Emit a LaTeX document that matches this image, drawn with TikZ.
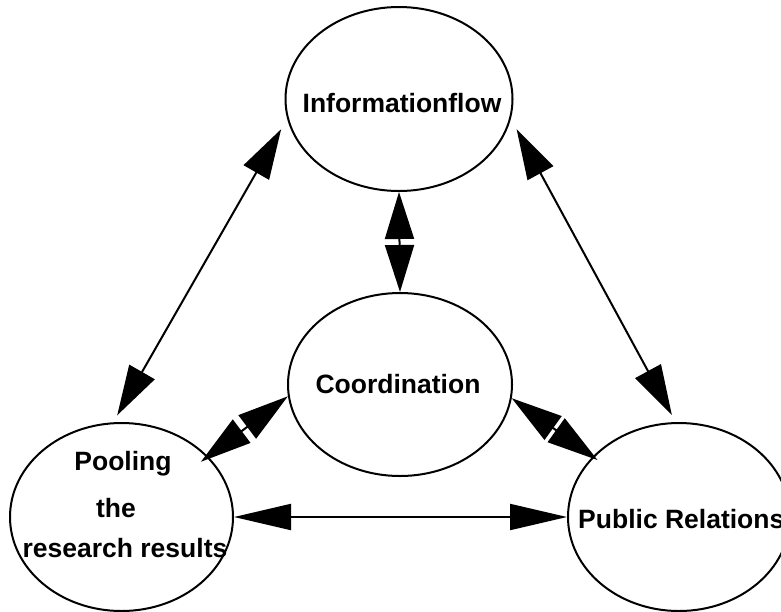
\documentclass[tikz,border=0pt]{standalone}
\usepackage{fontspec}
\setmainfont{Liberation Sans}
\usetikzlibrary{shapes.geometric,arrows.meta}
\begin{document}
\begin{tikzpicture}[x=1pt,y=-1pt,
  oval/.style={draw, ellipse, line width=2pt, inner sep=0pt},
  txt/.style={font=\fontsize{26.5}{30}\selectfont\bfseries, inner sep=0pt},
  dbl/.style={line width=2pt, arrows={Triangle[length=50pt,width=29pt]-Triangle[length=50pt,width=29pt]}},
  vdbl/.style={line width=2pt, arrows={Triangle[length=47pt,width=29pt]-Triangle[length=47pt,width=29pt]}},
  sdbl/.style={line width=2pt, arrows={Triangle[length=51pt,width=29pt]-Triangle[length=51pt,width=29pt]}},
  hdbl/.style={line width=2pt, arrows={Triangle[length=57pt,width=26pt]-Triangle[length=57pt,width=26pt]}}]
\useasboundingbox (0,0) rectangle (781,611);
\node[oval, minimum width=227pt, minimum height=184pt] (info) at (399,99) {};
\node[oval, minimum width=224pt, minimum height=183pt] (coord) at (400,384.5) {};
\node[oval, minimum width=223pt, minimum height=188pt] (pool) at (121.5,517) {};
\node[oval, minimum width=222pt, minimum height=188pt] (pr) at (679,517) {};
\node[txt, anchor=base] (tinfo) at (402,112) {Informationflow};
\node[txt, anchor=base] (tcoord) at (398,393) {Coordination};
\node[txt, anchor=base west] (tpr) at (578,528) {Public Relations};
\node[txt, anchor=base] (tp1) at (123,470) {Pooling};
\node[txt, anchor=base] (tp2) at (116,517) {the};
\node[txt, anchor=base] (tp3) at (125,557) {research results};
\draw[dbl, shorten <=12pt, shorten >=8pt] (info.190) -- (pool.95);
\draw[dbl, shorten <=12pt, shorten >=8pt] (info.350) -- (pr.92);
\draw[vdbl] (info.south) -- (coord.north);
\draw[sdbl, shorten >=-9pt] (coord.186) -- (pool.35);
\draw[sdbl, shorten >=-6pt] (coord.-7) -- (pr.145);
\draw[hdbl] (pool.east) -- (pr.west);
\end{tikzpicture}
\end{document}
